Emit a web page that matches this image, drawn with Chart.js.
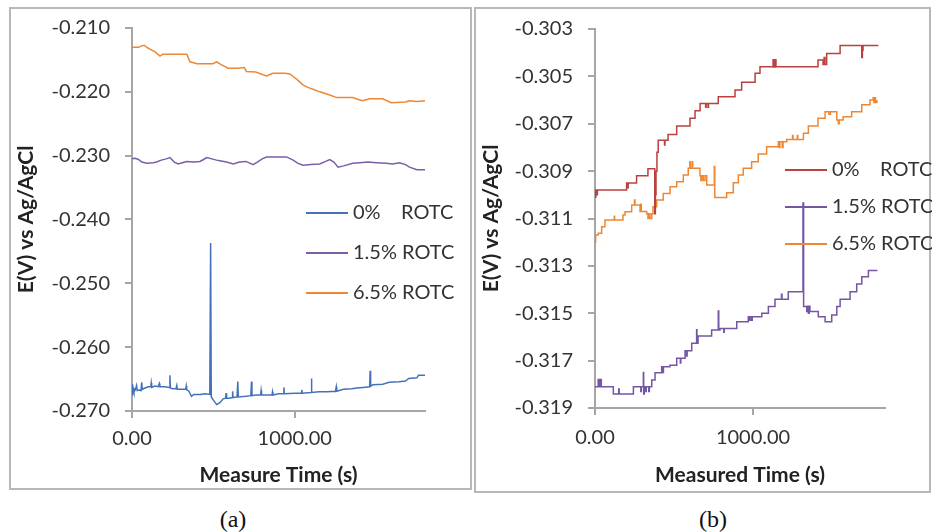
<!DOCTYPE html>
<html>
<head>
<meta charset="utf-8">
<script src="https://cdn.jsdelivr.net/npm/chart.js@4/dist/chart.umd.min.js"></script>
<style>
  html, body { margin: 0; padding: 0; background: #ffffff; }
  #page { position: relative; width: 932px; height: 532px; overflow: hidden; background: #fff; }
  .panel { position: absolute; border: 2px solid #b8b8b8; box-sizing: border-box; }
  canvas { position: absolute; }
  .cap { position: absolute; font-family: "Liberation Serif", "DejaVu Serif", serif; font-size: 24px; color: #111; transform: translate(-50%, -50%); }
</style>
</head>
<body>
<div id="page">
  <div class="panel" style="left:9px; top:7px; width:463px; height:483px;"></div>
  <div class="panel" style="left:474px; top:7px; width:457px; height:486px;"></div>
  <canvas id="chartA" width="472" height="500" style="left:0px; top:0px;"></canvas>
  <canvas id="chartB" width="460" height="500" style="left:472px; top:0px;"></canvas>
  <div class="cap" style="left:233px; top:519px;">(a)</div>
  <div class="cap" style="left:713px; top:519px;">(b)</div>
</div>
<script>
// ---------------- Data: panel (a) ----------------
const labelsA = ["0%    ROTC", "1.5% ROTC", "6.5% ROTC"];
const yTicksA = [-0.270, -0.260, -0.250, -0.240, -0.230, -0.220, -0.210];
const xTicksA = [0, 1000];

const tA0 = [0,2,4,7,12,20,28,32,45,55,60,63,80,100,115,118,121,140,160,168,171,200,230,233,236,250,270,275,278,300,330,333,336,350,365,380,420,450,478,483,487,500,520,540,560,575,578,581,600,615,618,621,645,650,653,700,730,734,737,760,790,793,796,860,863,866,900,930,933,936,1000,1040,1043,1046,1100,1102,1105,1150,1200,1250,1255,1258,1300,1350,1380,1420,1460,1463,1466,1480,1540,1580,1640,1680,1700,1750,1760,1800];
const vA0 = [-0.2672,-0.2658,-0.2676,-0.2664,-0.2670,-0.2667,-0.2660,-0.2668,-0.2667,-0.2668,-0.2655,-0.2666,-0.2664,-0.2662,-0.2662,-0.2656,-0.2663,-0.2661,-0.2662,-0.2657,-0.2662,-0.2662,-0.2663,-0.2644,-0.2664,-0.2665,-0.2665,-0.2660,-0.2666,-0.2666,-0.2666,-0.2661,-0.2667,-0.2669,-0.2677,-0.2674,-0.2674,-0.2673,-0.2674,-0.2437,-0.2678,-0.2683,-0.2690,-0.2687,-0.2681,-0.2680,-0.2672,-0.2680,-0.2680,-0.2679,-0.2669,-0.2679,-0.2678,-0.2654,-0.2678,-0.2677,-0.2676,-0.2654,-0.2676,-0.2675,-0.2675,-0.2668,-0.2675,-0.2675,-0.2670,-0.2675,-0.2673,-0.2673,-0.2663,-0.2673,-0.2672,-0.2672,-0.2667,-0.2672,-0.2671,-0.2649,-0.2671,-0.2670,-0.2670,-0.2669,-0.2662,-0.2669,-0.2666,-0.2665,-0.2664,-0.2663,-0.2662,-0.2637,-0.2661,-0.2659,-0.2658,-0.2655,-0.2654,-0.2653,-0.2649,-0.2648,-0.2644,-0.2644];

const tA1 = [0,20,40,60,90,130,151,180,210,233,260,284,310,335,380,417,440,458,490,520,540,580,622,660,700,744,770,800,826,880,949,990,1020,1051,1100,1153,1190,1215,1240,1266,1300,1356,1400,1450,1500,1561,1600,1644,1680,1705,1750,1800];
const vA1 = [-0.2305,-0.2304,-0.2306,-0.2310,-0.2312,-0.2311,-0.2310,-0.2307,-0.2305,-0.2303,-0.2310,-0.2313,-0.2311,-0.2309,-0.2310,-0.2309,-0.2306,-0.2303,-0.2305,-0.2307,-0.2308,-0.2310,-0.2313,-0.2310,-0.2309,-0.2314,-0.2310,-0.2305,-0.2302,-0.2302,-0.2302,-0.2307,-0.2312,-0.2315,-0.2314,-0.2313,-0.2309,-0.2306,-0.2310,-0.2318,-0.2316,-0.2312,-0.2311,-0.2310,-0.2311,-0.2312,-0.2313,-0.2311,-0.2314,-0.2318,-0.2322,-0.2322];

const tA2 = [0,40,60,75,95,110,140,172,190,260,337,356,400,460,497,520,545,590,650,690,703,760,826,865,940,970,990,1020,1050,1080,1112,1153,1215,1257,1356,1390,1417,1460,1540,1593,1680,1705,1750,1800];
const vA2 = [-0.2130,-0.2130,-0.2128,-0.2127,-0.2131,-0.2133,-0.2137,-0.2144,-0.2141,-0.2141,-0.2141,-0.2153,-0.2156,-0.2156,-0.2156,-0.2153,-0.2157,-0.2163,-0.2163,-0.2162,-0.2168,-0.2169,-0.2175,-0.2171,-0.2171,-0.2172,-0.2176,-0.2182,-0.2189,-0.2193,-0.2196,-0.2200,-0.2205,-0.2209,-0.2209,-0.2212,-0.2214,-0.2211,-0.2211,-0.2217,-0.2216,-0.2214,-0.2215,-0.2214];

// ---------------- Data: panel (b) ----------------
const labelsB = ["0%    ROTC", "1.5% ROTC", "6.5% ROTC"];
const yTicksB = [-0.319, -0.317, -0.315, -0.313, -0.311, -0.309, -0.307, -0.305, -0.303];
const xTicksB = [0, 1000];

const tB0 = [0,5,10,15,200,205,210,263,335,378,382,386,392,400,440,443,462,517,601,633,665,700,703,715,718,780,886,928,1013,1044,1127,1130,1133,1136,1140,1145,1411,1443,1450,1455,1466,1551,1688,1692,1696,1793];
const vB0 = [-0.3101,-0.3098,-0.3100,-0.3098,-0.3095,-0.3097,-0.3095,-0.3092,-0.3089,-0.3108,-0.3100,-0.3090,-0.3082,-0.3077,-0.3079,-0.3077,-0.30745,-0.3071,-0.30677,-0.30645,-0.30614,-0.3063,-0.30614,-0.3063,-0.30614,-0.30586,-0.30558,-0.30525,-0.30487,-0.30459,-0.3043,-0.3046,-0.3043,-0.3046,-0.3043,-0.30459,-0.30431,-0.3045,-0.3042,-0.3045,-0.30403,-0.3037,-0.3042,-0.3039,-0.3037,-0.3037];

const tB1 = [0,20,24,28,32,36,40,116,150,153,243,290,293,306,308,312,320,324,340,344,359,380,422,430,433,474,517,540,543,570,580,583,612,643,645,652,738,780,783,791,815,818,897,970,975,980,990,995,1055,1097,1139,1180,1183,1223,1316,1320,1340,1345,1350,1355,1360,1413,1456,1498,1530,1551,1614,1656,1688,1730,1787];
const vB1 = [-0.3181,-0.3178,-0.3181,-0.3178,-0.3181,-0.3178,-0.3181,-0.31841,-0.3182,-0.31841,-0.3181,-0.3183,-0.3181,-0.3175,-0.31841,-0.3181,-0.3183,-0.3181,-0.3183,-0.3181,-0.31782,-0.31751,-0.31726,-0.3175,-0.31726,-0.3172,-0.3169,-0.3171,-0.3169,-0.31658,-0.3168,-0.31658,-0.31627,-0.3157,-0.31627,-0.31596,-0.31571,-0.3149,-0.31571,-0.31564,-0.3158,-0.31564,-0.31536,-0.31515,-0.3153,-0.31515,-0.3153,-0.31515,-0.315,-0.31472,-0.31441,-0.3142,-0.31441,-0.31409,-0.31035,-0.31472,-0.31493,-0.3147,-0.3150,-0.3147,-0.31493,-0.31515,-0.31536,-0.31507,-0.31472,-0.31441,-0.31409,-0.31377,-0.31346,-0.3132,-0.3132];

const tB2 = [0,4,20,42,63,120,122,124,177,190,232,250,253,270,285,290,293,316,327,335,340,348,359,367,390,432,475,517,559,590,600,603,615,618,643,664,670,675,685,696,707,755,758,760,833,875,907,938,991,1033,1086,1160,1165,1170,1185,1190,1213,1250,1253,1280,1283,1319,1350,1411,1456,1480,1490,1530,1540,1545,1570,1624,1688,1740,1760,1765,1770,1775,1783];
const vB2 = [-0.3120,-0.3117,-0.31162,-0.31135,-0.31106,-0.31106,-0.3109,-0.31106,-0.31085,-0.31071,-0.31043,-0.31022,-0.31043,-0.31043,-0.3107,-0.3104,-0.3107,-0.3107,-0.3108,-0.3110,-0.3108,-0.3110,-0.3108,-0.3105,-0.31022,-0.30994,-0.30966,-0.30945,-0.30916,-0.30888,-0.3086,-0.30888,-0.3086,-0.30888,-0.30888,-0.3092,-0.3094,-0.3092,-0.3094,-0.3092,-0.30959,-0.3088,-0.3101,-0.31011,-0.30991,-0.30949,-0.30916,-0.30888,-0.3086,-0.30828,-0.30797,-0.30776,-0.3080,-0.30776,-0.3080,-0.30776,-0.30766,-0.3075,-0.30766,-0.3075,-0.30766,-0.3074,-0.3071,-0.30677,-0.30649,-0.3066,-0.30649,-0.30684,-0.3070,-0.30684,-0.3067,-0.30649,-0.3062,-0.3060,-0.3059,-0.3061,-0.3059,-0.3061,-0.3060];

// ---------------- Styling ----------------
const FONT = "Lato";
const AXIS_GREY = "#a6a6a6";
const colorsA = ["#4472b8", "#7b5ea6", "#ee8733"];
const colorsB = ["#b9413f", "#7556a3", "#ee8733"];

function pts(ts, vs) { return ts.map((t, i) => ({ x: t, y: vs[i] })); }

const insideLegend = {
  id: 'insideLegend',
  afterDatasetsDraw(chart, args, opts) {
    const ctx = chart.ctx;
    ctx.save();
    ctx.font = opts.font;
    ctx.textBaseline = 'middle';
    ctx.textAlign = 'left';
    chart.data.datasets.forEach((ds, i) => {
      const y = opts.y + i * opts.gap;
      ctx.strokeStyle = ds.borderColor;
      ctx.lineWidth = 2;
      ctx.beginPath();
      ctx.moveTo(opts.x, y);
      ctx.lineTo(opts.x + opts.len, y);
      ctx.stroke();
      ctx.fillStyle = opts.color;
      ctx.fillText(ds.label, opts.x + opts.len + opts.textGap, y);
    });
    ctx.restore();
  }
};

function makeChart(id, cfg) {
  const datasets = cfg.series.map((s, i) => ({
    label: cfg.labels[i],
    data: pts(s[0], s[1]),
    borderColor: cfg.colors[i],
    backgroundColor: cfg.colors[i],
    borderWidth: 1.5,
    pointRadius: 0,
    fill: false,
    tension: 0,
    stepped: cfg.stepped
  }));
  return new Chart(document.getElementById(id), {
    type: 'line',
    data: { datasets },
    plugins: [insideLegend],
    options: {
      responsive: false,
      animation: false,
      devicePixelRatio: 1,
      layout: { padding: { left: 0, right: cfg.padRight, top: cfg.padTop, bottom: 0 } },
      plugins: {
        legend: { display: false },
        tooltip: { enabled: false },
        insideLegend: { x: cfg.legX, y: cfg.legY, gap: cfg.legGap, len: 42, textGap: 5, font: "20px " + FONT, color: "#333333" }
      },
      scales: {
        x: {
          type: 'linear',
          min: 0,
          max: cfg.xMax,
          afterBuildTicks: (scale) => { scale.ticks = cfg.xTicks.map(v => ({ value: v })); },
          afterFit: (scale) => { scale.height = cfg.xAxisH; },
          ticks: { includeBounds: false, color: "#333333", font: { family: FONT, size: 20 }, padding: cfg.xTickPad, maxRotation: 0, callback: (v) => Number(v).toFixed(2) },
          grid: { display: true, drawOnChartArea: false, drawTicks: true, tickLength: 7, color: AXIS_GREY, lineWidth: 2 },
          border: { display: true, color: AXIS_GREY, width: 2 },
          title: { display: true, text: cfg.xTitle, color: "#222222", font: { family: FONT, size: 21, weight: 'bold' }, padding: { top: 0, bottom: 12 } }
        },
        y: {
          type: 'linear',
          min: cfg.yMin,
          max: cfg.yMax,
          afterBuildTicks: (scale) => { scale.ticks = cfg.yTicks.map(v => ({ value: v })); },
          afterFit: (scale) => { scale.width = cfg.yAxisW; },
          ticks: { color: "#333333", font: { family: FONT, size: 20 }, padding: 15, callback: (v) => Number(v).toFixed(3) },
          grid: { display: true, drawOnChartArea: false, drawTicks: true, tickLength: 7, color: AXIS_GREY, lineWidth: 2 },
          border: { display: true, color: AXIS_GREY, width: 2 },
          title: { display: true, text: "E(V) vs Ag/AgCl", color: "#222222", font: { family: FONT, size: 21, weight: 'bold' }, padding: { top: cfg.yTitlePad, bottom: 0 } }
        }
      }
    }
  });
}

makeChart('chartA', {
  labels: labelsA, colors: colorsA, stepped: false,
  series: [[tA0, vA0], [tA1, vA1], [tA2, vA2]],
  xMax: 1800, xTicks: xTicksA, yTicks: yTicksA, yMin: -0.270, yMax: -0.210,
  xTitle: "Measure Time (s)", padRight: 47, padTop: 28, xAxisH: 89, yAxisW: 132,
  yTitlePad: 14, xTickPad: 9,
  legX: 306, legY: 213, legGap: 40
});

makeChart('chartB', {
  labels: labelsB, colors: colorsB, stepped: true,
  series: [[tB0, vB0], [tB1, vB1], [tB2, vB2]],
  xMax: 1835, xTicks: xTicksB, yTicks: yTicksB, yMin: -0.319, yMax: -0.303,
  xTitle: "Measured Time (s)", padRight: 47, padTop: 29, xAxisH: 92, yAxisW: 123,
  yTitlePad: 7, xTickPad: 11,
  legX: 313, legY: 170, legGap: 37
});
</script>
</body>
</html>
